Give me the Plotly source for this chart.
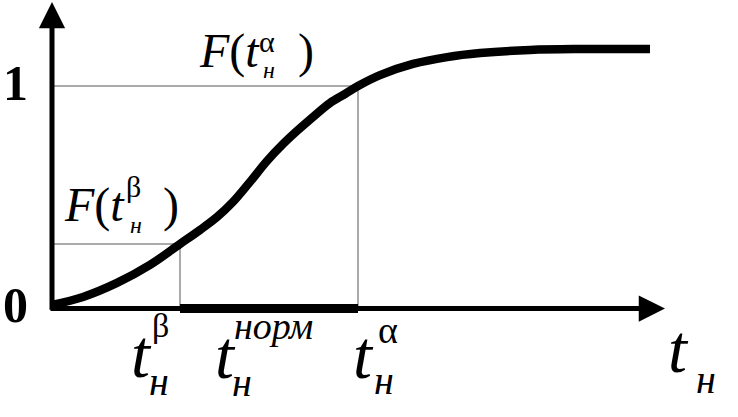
import plotly.graph_objects as go

# ---- data ----
T = [0.00, 0.31, 0.65, 0.98, 1.28, 1.48, 1.65, 1.81, 1.98, 2.15, 2.31, 2.45,
     2.61, 2.78, 2.93, 3.06, 3.28, 3.61, 3.95, 4.28, 4.78, 5.28, 5.98]
F = [0.016, 0.052, 0.115, 0.196, 0.290, 0.353, 0.411, 0.479, 0.569, 0.663, 0.739, 0.798,
     0.861, 0.924, 0.964, 1.000, 1.049, 1.099, 1.130, 1.148, 1.162, 1.166, 1.166]
T_BETA = 1.28
T_ALPHA = 3.06
F_BETA = 0.29
F_ALPHA = 1.0
Y_TICKS = [0, 1]
Y_TICK_LABELS = ["0", "1"]

# ---- geometry ----
W, H = 738, 417
X0_PX, X_SCALE = 52.0, 100.0
Y0_PX, Y_SCALE = 308.5, 222.5
x_range = [(0 - X0_PX) / X_SCALE, (W - X0_PX) / X_SCALE]
y_range = [(Y0_PX - H) / Y_SCALE, Y0_PX / Y_SCALE]

FONT = "Liberation Serif"

fig = go.Figure()

# thin gray guide lines
fig.add_trace(go.Scatter(
    x=[0, T_BETA, T_BETA], y=[F_BETA, F_BETA, 0], mode="lines",
    line=dict(color="#8f8f8f", width=1.5), hoverinfo="skip"))
fig.add_trace(go.Scatter(
    x=[0, T_ALPHA, T_ALPHA], y=[F_ALPHA, F_ALPHA, 0], mode="lines",
    line=dict(color="#8f8f8f", width=1.5), hoverinfo="skip"))
# thick interval on the t axis
fig.add_trace(go.Scatter(
    x=[T_BETA, T_ALPHA], y=[0, 0], mode="lines",
    line=dict(color="black", width=9), hoverinfo="skip"))
# the distribution curve
fig.add_trace(go.Scatter(
    x=T, y=F, mode="lines", line=dict(color="black", width=8.5, shape="spline", smoothing=1.0),
    hoverinfo="skip"))

# axis arrows
y_tip = (Y0_PX - 2) / Y_SCALE
x_tip = (665 - X0_PX) / X_SCALE
for (x, y, ax, ay) in [(0, y_tip, 0, -0.012), (x_tip, 0, -0.03, 0)]:
    fig.add_annotation(x=x, y=y, ax=ax, ay=ay, xref="x", yref="y", axref="x", ayref="y",
                       text="", showarrow=True, arrowhead=2, arrowsize=1.05,
                       arrowwidth=5, arrowcolor="black", standoff=0, startstandoff=0)


def lab(text, px_left, py_base, size, italic=False, bold=False):
    fig.add_annotation(
        x=px_left / W, y=1 - (py_base + 0.216 * size) / H, xref="paper", yref="paper",
        xanchor="left", yanchor="bottom", text=text, showarrow=False,
        borderpad=0, borderwidth=0,
        font=dict(family=FONT, size=size, color="black",
                  style="italic" if italic else "normal",
                  weight="bold" if bold else "normal"))


# y tick labels
for v, s in zip(Y_TICKS, Y_TICK_LABELS):
    lab(s, 3, Y0_PX - v * Y_SCALE + 14, 50, bold=True)

# F(t_н^α)
lab("<i>F</i>(<i>t</i>", 199, 68, 48)
lab("α", 259, 52, 30)
lab("н", 263, 78, 24, italic=True)
lab(")", 298, 68, 48)

# F(t_н^β)
lab("<i>F</i>(<i>t</i>", 64, 222, 48)
lab("β", 126, 197, 30)
lab("н", 130, 233, 24, italic=True)
lab(")", 163, 222, 48)

# bottom labels
lab("t", 131, 377, 68, italic=True)
lab("β", 152, 337, 34)
lab("н", 149, 395, 40, italic=True)

lab("t", 215, 378, 68, italic=True)
lab("норм", 234, 339, 38, italic=True)
lab("н", 232, 396, 40, italic=True)

lab("t", 353, 378, 68, italic=True)
lab("α", 378, 343, 38)
lab("н", 374, 394, 40, italic=True)

lab("t", 668, 372, 68, italic=True)
lab("н", 696, 393, 40, italic=True)

fig.update_layout(
    width=W, height=H, margin=dict(l=0, r=0, t=0, b=0),
    paper_bgcolor="white", plot_bgcolor="white", showlegend=False,
    xaxis=dict(range=x_range, visible=False, fixedrange=True),
    yaxis=dict(range=y_range, visible=False, fixedrange=True),
)

fig.write_html("out.html", config={"displayModeBar": False},
               post_script="document.body.style.margin='0';document.body.style.overflow='hidden';")
